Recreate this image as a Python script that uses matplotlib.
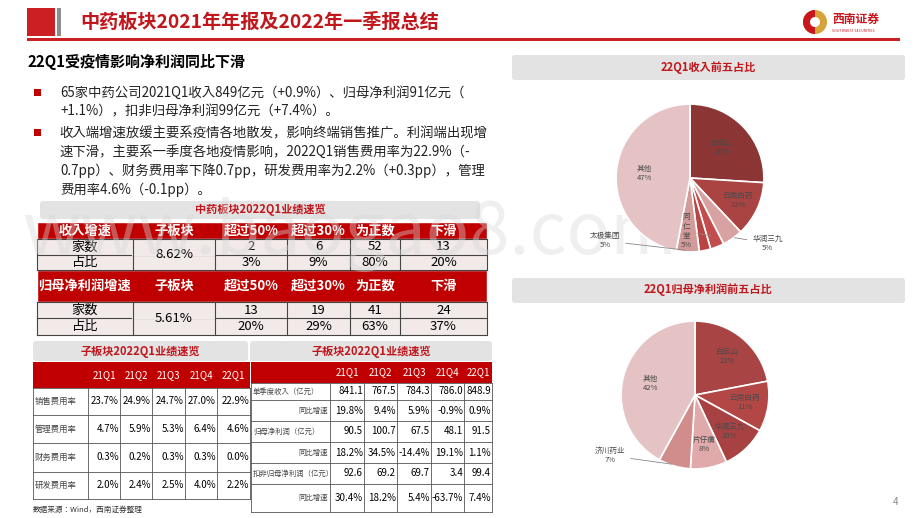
import matplotlib
matplotlib.use("Agg")
import matplotlib.pyplot as plt
from matplotlib.patches import Rectangle, FancyBboxPatch, Circle, Wedge
import numpy as np

plt.rcParams["font.family"] = ["Noto Sans CJK SC", "Noto Sans CJK TC", "Noto Sans CJK JP",
                               "Noto Sans CJK KR", "DejaVu Sans"]

# ---------------- data ----------------
title = "中药板块2021年年报及2022年一季报总结"
subtitle = "22Q1受疫情影响净利润同比下滑"
bullets = [
    ["65家中药公司2021Q1收入849亿元（+0.9%）、归母净利润91亿元（",
     "+1.1%），扣非归母净利润99亿元（+7.4%）。"],
    ["收入端增速放缓主要系疫情各地散发，影响终端销售推广。利润端出现增",
     "速下滑，主要系一季度各地疫情影响，2022Q1销售费用率为22.9%（-",
     "0.7pp）、财务费用率下降0.7pp，研发费用率为2.2%（+0.3pp），管理",
     "费用率4.6%（-0.1pp）。"],
]
t1_title = "中药板块2022Q1业绩速览"
t1_cols = ["子板块", "超过50%", "超过30%", "为正数", "下滑"]
rev_head = "收入增速"
rev_sub = "8.62%"
rev_count = ["2", "6", "52", "13"]
rev_share = ["3%", "9%", "80%", "20%"]
np_head = "归母净利润增速"
np_sub = "5.61%"
np_count = ["13", "19", "41", "24"]
np_share = ["20%", "29%", "63%", "37%"]
row_labels = ["家数", "占比"]

quarters = ["21Q1", "21Q2", "21Q3", "21Q4", "22Q1"]
fee_names = ["销售费用率", "管理费用率", "财务费用率", "研发费用率"]
fee_vals = [["23.7%", "24.9%", "24.7%", "27.0%", "22.9%"],
            ["4.7%", "5.9%", "5.3%", "6.4%", "4.6%"],
            ["0.3%", "0.2%", "0.3%", "0.3%", "0.0%"],
            ["2.0%", "2.4%", "2.5%", "4.0%", "2.2%"]]
t3_names = ["单季度收入（亿元）", "同比增速", "归母净利润（亿元）", "同比增速", "扣非归母净利润（亿元）", "同比增速"]
t3_vals = [["841.1", "767.5", "784.3", "786.0", "848.9"],
           ["19.8%", "9.4%", "5.9%", "-0.9%", "0.9%"],
           ["90.5", "100.7", "67.5", "48.1", "91.5"],
           ["18.2%", "34.5%", "-14.4%", "19.1%", "1.1%"],
           ["92.6", "69.2", "69.7", "3.4", "99.4"],
           ["30.4%", "18.2%", "5.4%", "-63.7%", "7.4%"]]
sub_title = "子板块2022Q1业绩速览"
source = "数据来源：Wind，西南证券整理"

pie1_title = "22Q1收入前五占比"
pie1_labels = ["白云山", "云南白药", "华润三九", "同仁堂", "", "太极集团", "其他"]
pie1_pct = ["26%", "12%", "5%", "5%", "", "5%", "47%"]
pie1_vals = [26, 12, 4.5, 3, 2.5, 5, 47]
pie1_colors = ["#8b3635", "#a94443", "#d9a2a2", "#c24d4c", "#b94443", "#d39a9a", "#e5c3c4"]

pie2_title = "22Q1归母净利润前五占比"
pie2_labels = ["白云山", "云南白药", "华润三九", "片仔癀", "济川药业", "其他"]
pie2_vals = [22, 11, 10, 8, 7, 42]
pie2_colors = ["#a84443", "#b34746", "#a84242", "#e1aaaa", "#d18c8c", "#e5c3c4"]

DARKRED = "#c0161c"
GRAYBAR = "#e3e3e3"
LABEL = "#4a4a4a"

# ---------------- figure ----------------
fig = plt.figure(figsize=(9.2, 5.18), dpi=100)
ax = fig.add_axes([0, 0, 1, 1])
ax.set_xlim(0, 920)
ax.set_ylim(518, 0)
ax.axis("off")

def rect(x0, y0, x1, y1, fc, ec="none", lw=0.6, z=1):
    ax.add_patch(Rectangle((x0, y0), x1 - x0, y1 - y0, facecolor=fc, edgecolor=ec, lw=lw, zorder=z))

def rbar(x0, y0, x1, y1, fc=GRAYBAR):
    ax.add_patch(FancyBboxPatch((x0 + 3, y0 + 3), x1 - x0 - 6, y1 - y0 - 6,
                                boxstyle="round,pad=3", fc=fc, ec="none", zorder=1))

# header
rect(27, 8, 55, 36, "#cc1f24")
rect(57, 8, 61, 36, "#8c8c8c")
ax.text(80, 22, title, fontsize=13.8, fontweight="bold", color=DARKRED, va="center")
rect(27, 38, 900, 41, "#cc1f24")
# logo
ax.add_patch(Circle((815, 22), 12, fc="#d6a23a", ec="none", zorder=2))
ax.add_patch(Wedge((815, 22), 12, 90, 270, fc="#c8161d", ec="none", zorder=3))
ax.add_patch(Circle((815, 22), 5, fc="white", ec="none", zorder=4))
ax.text(832, 19, "西南证券", fontsize=8.5, fontweight="bold", color="#c8161d", va="center")
ax.text(832, 31, "SOUTHWEST SECURITIES", fontsize=2.6, color="#c8161d", va="center")

# watermark
ax.text(350, 235, "www.baogao8.com", fontsize=52, color="#d8d8d8", alpha=0.4,
        ha="center", va="center", zorder=20)

# subtitle & bullets
ax.text(28, 62, subtitle, fontsize=10.8, fontweight="bold", color="black", va="center")
ys = [[93, 111], [133, 152, 171, 190]]
for lines, yl in zip(bullets, ys):
    rect(34, yl[0] - 4, 41, yl[0] + 3, "#c00000")
    for ln, y in zip(lines, yl):
        ax.text(60, y, ln, fontsize=9.6, color="#222222", va="center")

# table 1
rbar(40, 201, 480, 219)
ax.text(260, 210, t1_title, fontsize=8, fontweight="bold", color=DARKRED, ha="center", va="center")
cx = [37, 133, 215, 287, 350, 400, 487]
def t1_block(y_head0, y_head1, y_r1, y_r2, head, sub, counts, shares):
    rect(cx[0], y_head0, cx[-1], y_head1, "#c00000", ec="white", lw=1, z=2)
    labs = [head] + t1_cols
    for i, l in enumerate(labs):
        ax.text((cx[i] + cx[i + 1]) / 2, (y_head0 + y_head1) / 2, l, fontsize=9.5,
                fontweight="bold", color="white", ha="center", va="center", zorder=3)
    rect(cx[0], y_head1, cx[-1], y_r2, "#f2e9e9", z=2)
    for y in [y_head1, y_r1, y_r2]:
        ax.plot([cx[0], cx[-1]], [y, y], color="#444444", lw=0.8, zorder=3)
    ax.plot([cx[1], cx[2]], [y_r1, y_r1], color="#f2e9e9", lw=1.5, zorder=3)
    for x in cx:
        ax.plot([x, x], [y_head1, y_r2], color="#444444", lw=0.8, zorder=3)
    ax.text((cx[1] + cx[2]) / 2, (y_head1 + y_r2) / 2, sub, fontsize=9.5, ha="center", va="center", zorder=4)
    for j, (rows, y0, y1) in enumerate([(counts, y_head1, y_r1), (shares, y_r1, y_r2)]):
        ax.text((cx[0] + cx[1]) / 2, (y0 + y1) / 2, row_labels[j], fontsize=9.5, ha="center", va="center", zorder=4)
        for i, v in enumerate(rows):
            ax.text((cx[i + 2] + cx[i + 3]) / 2, (y0 + y1) / 2, v, fontsize=9.5, ha="center", va="center", zorder=4)
t1_block(222, 239, 255, 270, rev_head, rev_sub, rev_count, rev_share)
t1_block(270, 302, 318, 335, np_head, np_sub, np_count, np_share)

# table 2
rbar(33, 341, 248, 361)
ax.text(140, 351, sub_title, fontsize=8, fontweight="bold", color=DARKRED, ha="center", va="center")
c2 = [33, 88, 120, 152, 185, 217, 250]
r2 = [362, 388, 415, 443, 472, 499]
rect(c2[0], r2[0], c2[-1], r2[1], "#c00000", z=2)
for i, q in enumerate(quarters):
    ax.text((c2[i + 1] + c2[i + 2]) / 2, (r2[0] + r2[1]) / 2, q, fontsize=7, color="white",
            ha="center", va="center", zorder=3)
for y in r2[1:]:
    ax.plot([c2[0], c2[-1]], [y, y], color="#555555", lw=0.6, zorder=3)
for x in c2:
    ax.plot([x, x], [r2[1], r2[-1]], color="#555555", lw=0.6, zorder=3)
for k, (nm, vals) in enumerate(zip(fee_names, fee_vals)):
    yc = (r2[k + 1] + r2[k + 2]) / 2
    ax.text(c2[0] + 2, yc, nm, fontsize=6, color="#444444", va="center")
    for i, v in enumerate(vals):
        ax.text(c2[i + 2] - 1, yc, v, fontsize=7, ha="right", va="center")
ax.text(33, 510, source, fontsize=5.5, style="italic", color="#333333", va="center")

# table 3
rbar(250, 341, 492, 361)
ax.text(371, 351, sub_title, fontsize=8, fontweight="bold", color=DARKRED, ha="center", va="center")
c3 = [251, 330, 364, 397, 431, 464, 492]
r3 = [362, 383, 400, 421, 442, 463, 484, 512]
rect(c3[0], r3[0], c3[-1], r3[1], "#c00000", z=2)
for i, q in enumerate(quarters):
    ax.text((c3[i + 1] + c3[i + 2]) / 2, (r3[0] + r3[1]) / 2, q, fontsize=7, color="white",
            ha="center", va="center", zorder=3)
for y in r3[1:]:
    ax.plot([c3[0], c3[-1]], [y, y], color="#555555", lw=0.6, zorder=3)
for x in c3:
    ax.plot([x, x], [r3[1], r3[-1]], color="#555555", lw=0.6, zorder=3)
for k, (nm, vals) in enumerate(zip(t3_names, t3_vals)):
    yc = (r3[k + 1] + r3[k + 2]) / 2
    if k % 2 == 0:
        ax.text(c3[0] + 2, yc, nm, fontsize=5.3, color="#444444", va="center")
    else:
        ax.text(c3[1] - 2, yc, nm, fontsize=5.3, color="#444444", va="center", ha="right")
    for i, v in enumerate(vals):
        ax.text(c3[i + 2] - 1, yc, v, fontsize=7, ha="right", va="center")

ax.text(896, 502, "4", fontsize=7, color="#888888", ha="center", va="center")

# pie title bars
rbar(512, 55, 905, 80)
ax.text(708, 67, pie1_title, fontsize=8, fontweight="bold", color=DARKRED, ha="center", va="center")
rbar(512, 278, 905, 303)
ax.text(708, 290, pie2_title, fontsize=8, fontweight="bold", color=DARKRED, ha="center", va="center")

def pie_axes(cx_, cy_, r):
    w = 2 * r / 920 * 1.1
    h = 2 * r / 518 * 1.1
    a = fig.add_axes([cx_ / 920 - w / 2, 1 - cy_ / 518 - h / 2, w, h])
    a.set_xlim(-1.1, 1.1); a.set_ylim(-1.1, 1.1); a.set_aspect("equal"); a.axis("off")
    return a

def mid(w):
    a = np.deg2rad((w.theta1 + w.theta2) / 2)
    return np.cos(a), np.sin(a)

# pie 1
p1 = pie_axes(690, 178, 84)
w1, _ = p1.pie(pie1_vals, colors=pie1_colors, startangle=90, counterclock=False,
               wedgeprops=dict(edgecolor="white", linewidth=1.2), radius=1)
for idx, rr in [(0, 0.6), (1, 0.72), (6, 0.62)]:
    x, y = mid(w1[idx])
    p1.text(x * rr, y * rr, pie1_labels[idx] + "\n" + pie1_pct[idx], fontsize=5.5,
            color=LABEL, ha="center", va="center")
x, y = mid(w1[2])
p1.annotate(pie1_labels[2] + "\n" + pie1_pct[2], xy=(x * 0.98, y * 0.98), xytext=(1.05, -0.88),
            fontsize=5.5, color=LABEL, ha="center", va="center",
            arrowprops=dict(arrowstyle="-", color="#888888", lw=0.6))
x, y = mid(w1[3])
p1.annotate("\n".join(pie1_labels[3]) + "\n" + pie1_pct[3], xy=(x * 0.85, y * 0.85), xytext=(-0.05, -0.72),
            fontsize=5.5, color=LABEL, ha="center", va="center",
            arrowprops=dict(arrowstyle="-", color="#888888", lw=0.6))
x, y = mid(w1[5])
p1.annotate(pie1_labels[5] + "\n" + pie1_pct[5], xy=(x * 0.98, y * 0.98), xytext=(-1.15, -0.85),
            fontsize=5.5, color=LABEL, ha="center", va="center",
            arrowprops=dict(arrowstyle="-", color="#888888", lw=0.6))

# pie 2
p2 = pie_axes(695, 395, 84)
w2, _ = p2.pie(pie2_vals, colors=pie2_colors, startangle=90, counterclock=False,
               wedgeprops=dict(edgecolor="white", linewidth=1.2), radius=1)
for idx in range(4):
    x, y = mid(w2[idx])
    p2.text(x * 0.68, y * 0.68, pie2_labels[idx] + "\n" + f"{pie2_vals[idx]}%", fontsize=5.5,
            color=LABEL, ha="center", va="center")
x, y = mid(w2[5])
p2.text(x * 0.62, y * 0.62, pie2_labels[5] + "\n" + f"{pie2_vals[5]}%", fontsize=5.5,
        color=LABEL, ha="center", va="center")
x, y = mid(w2[4])
p2.annotate(pie2_labels[4] + "\n" + f"{pie2_vals[4]}%", xy=(x * 0.98, y * 0.98), xytext=(-1.15, -0.82),
            fontsize=5.5, color=LABEL, ha="center", va="center",
            arrowprops=dict(arrowstyle="-", color="#888888", lw=0.6))

fig.savefig("out.png", dpi=100)
